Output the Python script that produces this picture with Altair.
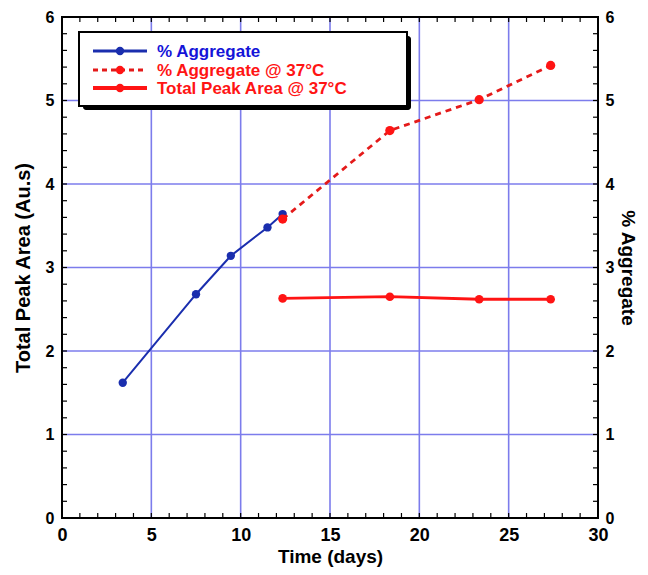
import altair as alt
import pandas as pd

# ---- data ----
agg_time = [3.4, 7.5, 9.45, 11.5, 12.35]
agg_val = [1.62, 2.68, 3.14, 3.48, 3.64]
agg37_time = [12.35, 18.35, 23.35, 27.35]
agg37_val = [3.58, 4.64, 5.01, 5.42]
tpa_time = [12.35, 18.35, 23.35, 27.35]
tpa_val = [2.63, 2.65, 2.62, 2.62]

x_tick_labels = [0, 5, 10, 15, 20, 25, 30]
y_tick_labels = [0, 1, 2, 3, 4, 5, 6]
x_minor = list(range(0, 31))
y_minor = [round(i * 0.2, 1) for i in range(0, 31)]
x_grid = [5, 10, 15, 20, 25]
y_grid = [1, 2, 3, 4, 5]

legend_labels = ["% Aggregate", "% Aggregate @ 37°C", "Total Peak Area @ 37°C"]

BLUE = "#1a2eae"
BLUE_TXT = "#1414d8"
RED = "#ff1414"
RED_D = "#e41a1a"
GRID = "#7c7cec"
FONT = "Liberation Sans"
W, H = 536, 501

xs = alt.Scale(domain=[0, 30], nice=False, zero=False)
ys = alt.Scale(domain=[0, 6], nice=False, zero=False)

x_axis = alt.Axis(values=x_tick_labels, grid=False, domain=False, ticks=False, tickSize=0,
                  labelFont=FONT, labelFontSize=18, labelFontWeight="bold", labelColor="black",
                  labelPadding=8, labelFlush=False, format="d",
                  title="Time (days)", titleFont=FONT, titleFontSize=19, titleFontWeight="bold",
                  titleColor="black", titlePadding=3)
y_axis = alt.Axis(values=y_tick_labels, orient="left", grid=False, domain=False, ticks=False, tickSize=0,
                  labelFont=FONT, labelFontSize=16, labelFontWeight="bold", labelColor="black",
                  labelPadding=8, format="d",
                  title="Total Peak Area (Au.s)", titleFont=FONT, titleFontSize=20, titleFontWeight="bold",
                  titleColor="black", titlePadding=12)
y_axis_r = alt.Axis(values=y_tick_labels, orient="right", grid=False, domain=False, ticks=False, tickSize=0,
                    labelFont=FONT, labelFontSize=16, labelFontWeight="bold", labelColor="black",
                    labelPadding=7, format="d",
                    title="% Aggregate", titleFont=FONT, titleFontSize=19, titleFontWeight="bold",
                    titleColor="black", titlePadding=4, titleAngle=90)


def X(f):
    return alt.X(f, type="quantitative", scale=xs, axis=x_axis)


def Y(f):
    return alt.Y(f, type="quantitative", scale=ys, axis=y_axis)


df_agg = pd.DataFrame({"t": agg_time, "v": agg_val})
df_agg37 = pd.DataFrame({"t": agg37_time, "v": agg37_val})
df_tpa = pd.DataFrame({"t": tpa_time, "v": tpa_val})
df_xgrid = pd.DataFrame({"g": x_grid})
df_ygrid = pd.DataFrame({"g": y_grid})
df_xminor = pd.DataFrame({"g": x_minor})
df_yminor = pd.DataFrame({"g": y_minor})
one = pd.DataFrame({"a": [0]})

layers = []
# grid lines
layers.append(alt.Chart(df_xgrid).mark_rule(color=GRID, strokeWidth=1.6).encode(
    x=X("g"), y=alt.value(0), y2=alt.value(H)))
layers.append(alt.Chart(df_ygrid).mark_rule(color=GRID, strokeWidth=1.6).encode(
    y=Y("g"), x=alt.value(0), x2=alt.value(W)))
# inward ticks
TL = 5
layers.append(alt.Chart(df_xminor).mark_rule(color="black", strokeWidth=1.2).encode(
    x=X("g"), y=alt.value(H), y2=alt.value(H - TL)))
layers.append(alt.Chart(df_xminor).mark_rule(color="black", strokeWidth=1.2).encode(
    x=X("g"), y=alt.value(0), y2=alt.value(TL)))
layers.append(alt.Chart(df_yminor).mark_rule(color="black", strokeWidth=1.2).encode(
    y=Y("g"), x=alt.value(0), x2=alt.value(TL)))
layers.append(alt.Chart(df_yminor).mark_rule(color="black", strokeWidth=1.2).encode(
    y=Y("g"), x=alt.value(W - TL), x2=alt.value(W)))
# data series
layers.append(alt.Chart(df_agg).mark_line(color=BLUE, strokeWidth=2).encode(x=X("t"), y=Y("v")))
layers.append(alt.Chart(df_agg).mark_circle(color=BLUE, size=70, opacity=1).encode(x=X("t"), y=Y("v")))
layers.append(alt.Chart(df_agg37).mark_line(color=RED_D, strokeWidth=2.8, strokeDash=[6, 5]).encode(
    x=X("t"), y=Y("v")))
layers.append(alt.Chart(df_agg37).mark_circle(color=RED, size=85, opacity=1).encode(x=X("t"), y=Y("v")))
layers.append(alt.Chart(df_tpa).mark_line(color=RED, strokeWidth=2.8).encode(x=X("t"), y=Y("v")))
layers.append(alt.Chart(df_tpa).mark_circle(color=RED, size=75, opacity=1).encode(x=X("t"), y=Y("v")))

# legend box (drawn manually, with drop shadow)
BX0, BY0, BX1, BY1 = 17, 15, 345, 89
layers.append(alt.Chart(one).mark_rect(color="black", cornerRadius=3).encode(
    x=alt.value(BX0 + 4), x2=alt.value(BX1 + 4), y=alt.value(BY0 + 4), y2=alt.value(BY1 + 4)))
layers.append(alt.Chart(one).mark_rect(fill="white", stroke="black", strokeWidth=2).encode(
    x=alt.value(BX0), x2=alt.value(BX1), y=alt.value(BY0), y2=alt.value(BY1)))
rows = [34, 53, 71]
line_cols = [BLUE, RED_D, RED]
dot_cols = [BLUE, RED, RED]
txt_cols = [BLUE_TXT, RED, RED]
dashes = [[1, 0], [5, 4], [1, 0]]
widths = [3, 3, 4]
for i, lab in enumerate(legend_labels):
    layers.append(alt.Chart(one).mark_rule(color=line_cols[i], strokeWidth=widths[i],
                                           strokeDash=dashes[i]).encode(
        x=alt.value(31), x2=alt.value(85), y=alt.value(rows[i])))
    layers.append(alt.Chart(one).mark_circle(color=dot_cols[i], size=70, opacity=1).encode(
        x=alt.value(58), y=alt.value(rows[i])))
    layers.append(alt.Chart(one).mark_text(text=lab, color=txt_cols[i], font=FONT, fontSize=17,
                                           fontWeight="bold", align="left", baseline="middle").encode(
        x=alt.value(95), y=alt.value(rows[i] + 1)))

# frame
layers.append(alt.Chart(one).mark_rect(fillOpacity=0, stroke="black", strokeWidth=2).encode(
    x=alt.value(0), x2=alt.value(W), y=alt.value(0), y2=alt.value(H)))

main = alt.layer(*layers)

right = alt.Chart(df_tpa).mark_point(opacity=0).encode(
    x=X("t"), y=alt.Y("v", type="quantitative", scale=ys, axis=y_axis_r))

chart = alt.layer(main, right).resolve_scale(y="independent").properties(
    width=W, height=H,
    autosize=alt.AutoSizeParams(type="none"),
    padding={"left": 54, "top": 9, "right": 42, "bottom": 49},
).configure_view(stroke=None).configure(background="white")

chart.save("out.html", embed_options={"renderer": "svg", "actions": False})
